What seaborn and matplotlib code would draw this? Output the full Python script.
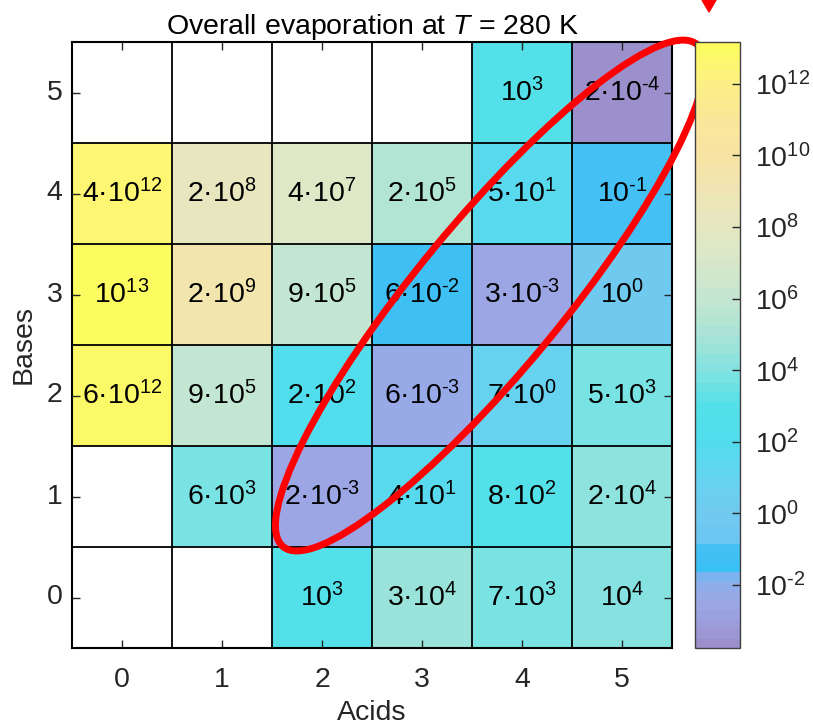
import numpy as np
import pandas as pd
import matplotlib
matplotlib.use("Agg")
import matplotlib.pyplot as plt
import seaborn as sns
from matplotlib.colors import LogNorm, LinearSegmentedColormap
from matplotlib.patches import Ellipse, Polygon
from matplotlib.ticker import FuncFormatter

# data: evaporation rates, rows = bases (5 at top), columns = acids
acids = [0, 1, 2, 3, 4, 5]
bases = [5, 4, 3, 2, 1, 0]
nan = np.nan
base5 = [nan, nan, nan, nan, 1e3, 2e-4]
base4 = [4e12, 2e8, 4e7, 2e5, 5e1, 1e-1]
base3 = [1e13, 2e9, 9e5, 6e-2, 3e-3, 1e0]
base2 = [6e12, 9e5, 2e2, 6e-3, 7e0, 5e3]
base1 = [nan, 6e3, 2e-3, 4e1, 8e2, 2e4]
base0 = [nan, nan, 1e3, 3e4, 7e3, 1e4]
cbar_ticks = [1e-2, 1e0, 1e2, 1e4, 1e6, 1e8, 1e10, 1e12]

df = pd.DataFrame([base5, base4, base3, base2, base1, base0], index=bases, columns=acids)


def pow10(e):
    # short hyphen as minus sign, like the original
    return f'$10^{{{str(e).replace("-", chr(0x2010))}}}$'


def cell_label(v):
    if np.isnan(v):
        return ''
    m, e = f'{v:.0e}'.split('e')
    e = int(e)
    if m == '1':
        return pow10(e)
    return f'{m}\u00b7' + pow10(e)


annot = df.map(cell_label).values

# colour scale (log10 value, colour)
lo, hi = -3.76, 13.17
stops = [(-3.76, '#9c90cc'), (-3.3, '#9c9ad8'), (-2.7, '#9ca6e4'), (-2.2, '#94acea'),
         (-1.85, '#7ab4ee'), (-1.65, '#38c0f5'), (-1.0, '#45c0f4'), (-0.8, '#6cc6f2'),
         (0.0, '#70caf0'), (1.0, '#64d4f0'), (2.0, '#50dcec'), (3.0, '#54e0e8'),
         (4.0, '#84e2e0'), (5.0, '#a8e4d8'), (6.0, '#c4e6d0'), (7.5, '#dfe8c6'),
         (8.5, '#eae6bc'), (10.0, '#f8e4a4'), (11.0, '#fae69a'), (12.0, '#fcee88'),
         (13.17, '#fcfc60')]
cmap = LinearSegmentedColormap.from_list(
    'evap', [((p - lo) / (hi - lo), c) for p, c in stops], N=64)
norm = LogNorm(vmin=10 ** lo, vmax=10 ** hi)

plt.rcParams['font.family'] = ['Liberation Sans', 'DejaVu Sans']
plt.rcParams['mathtext.fontset'] = 'custom'
plt.rcParams['mathtext.rm'] = 'Liberation Sans'
plt.rcParams['mathtext.it'] = 'Liberation Sans:italic'
plt.rcParams['mathtext.bf'] = 'Liberation Sans:bold'

fs = 20.5
grey = '#262626'

fig = plt.figure(figsize=(8.13, 7.28), dpi=100)
ax = fig.add_axes([72 / 813, 80 / 728, 600 / 813, 606 / 728])
cax = fig.add_axes([695 / 813, 80 / 728, 45 / 813, 606 / 728])

sns.heatmap(df, ax=ax, cbar_ax=cax, cmap=cmap, norm=norm, annot=annot, fmt='',
            annot_kws={'fontsize': fs, 'color': 'black'})

# cell borders (including empty cells)
ax.hlines(range(1, 6), 0, 6, colors='black', lw=1.3)
ax.vlines(range(1, 6), 0, 6, colors='black', lw=1.3)
for s in ax.spines.values():
    s.set_visible(True)
    s.set_color('black')
    s.set_linewidth(1.5)

ax.set_xticklabels(acids, rotation=0)
ax.set_yticklabels(bases, rotation=0)
ax.tick_params(direction='in', length=6, width=1, top=True, right=True,
               bottom=True, left=True, labelsize=fs, colors=grey)
ax.tick_params(axis='x', pad=14)
ax.tick_params(axis='y', pad=7)
ax.set_xlabel('Acids', fontsize=fs, color=grey, labelpad=5)
ax.set_ylabel('Bases', fontsize=fs, color=grey, labelpad=7)
ax.set_title('Overall evaporation at $T$ = 280 K', fontsize=fs, color='black', pad=6)

cb = ax.collections[0].colorbar
cb.outline.set_linewidth(1)
cb.outline.set_edgecolor('#404040')
cb.set_ticks(cbar_ticks)
cax.minorticks_off()
cax.yaxis.set_major_formatter(FuncFormatter(lambda v, p: pow10(int(round(np.log10(v))))))
cax.tick_params(direction='in', length=6, width=1, labelsize=fs, colors=grey, pad=11)

# red highlight ellipse along the diagonal
ell = Ellipse((4.18, 2.51), width=6.47, height=1.46, angle=-50.2, fill=False,
              ec='red', lw=5, clip_on=False, zorder=10)
ax.add_patch(ell)

# red arrow head at the top edge
fig.patches.append(Polygon([[702 / 813, 1.0], [716 / 813, 1.0], [709 / 813, 1 - 12 / 728]],
                           closed=True, color='red', transform=fig.transFigure))

fig.savefig('out.png', dpi=100)
